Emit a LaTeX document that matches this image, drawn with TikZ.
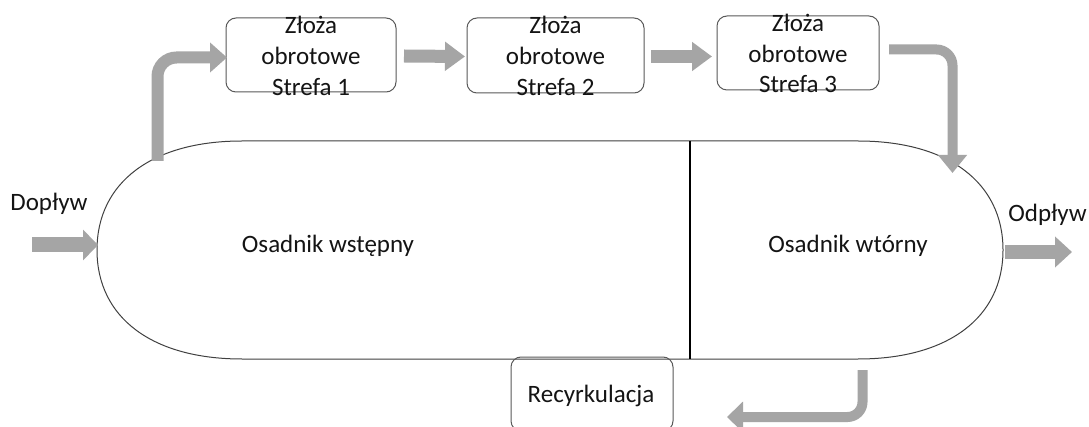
\documentclass[tikz,border=0pt]{standalone}
\usepackage{fontspec}
\setmainfont{Carlito}
\usetikzlibrary{arrows.meta}
\definecolor{arrgray}{HTML}{A5A5A5}
\definecolor{boxline}{HTML}{595959}
\definecolor{stadline}{HTML}{404040}
\definecolor{txt}{HTML}{141414}
\tikzset{
  zbox/.style={draw=boxline, line width=1pt, rounded corners=10pt, inner sep=0pt, outer sep=0pt, fill=none},
  lbl/.style={anchor=base, inner sep=0pt, outer sep=0pt, text=txt, font=\fontsize{25}{31}\selectfont},
  garrow/.style={draw=arrgray, color=arrgray, line cap=butt},
  stad/.style={draw=stadline, line width=1pt},
}
\begin{document}
\begin{tikzpicture}[x=1pt,y=-1pt]
\clip (0,0) rectangle (1089,427);
\fill[white] (0,0) rectangle (1089,427);

% stadium (settlers)
\draw[stad] (242,141) -- (858,141)
  .. controls (948,141) and (1003,182.4) .. (1003,250)
  .. controls (1003,317.6) and (948,359) .. (858,359)
  -- (242,359)
  .. controls (152,359) and (97,317.6) .. (97,250)
  .. controls (97,182.4) and (152,141) .. cycle;
\coordinate (divt) at (690,141);
\coordinate (divb) at (690,359);
\draw[black, line width=1.5pt] (divt) -- (divb);

\node[lbl] (osw) at (328,253) {Osadnik wstępny};
\node[lbl] (osv) at (848,253) {Osadnik wtórny};

% rotating bed boxes
\node[zbox, minimum width=170pt, minimum height=74pt] (b1) at (311,55) {};
\node[zbox, minimum width=177pt, minimum height=75pt] (b2) at (555.5,55.5) {};
\node[zbox, minimum width=162pt, minimum height=74pt] (b3) at (798,53) {};
\node[zbox, minimum width=162pt, minimum height=74pt] (rc) at (592,394) {};

\node[lbl] (b1a) at (311,34) {Złoża};
\node[lbl] (b1b) at (311,65) {obrotowe};
\node[lbl] (b1c) at (311,96) {Strefa 1};
\node[lbl] (b2a) at (555.5,34) {Złoża};
\node[lbl] (b2b) at (555.5,65) {obrotowe};
\node[lbl] (b2c) at (555.5,96) {Strefa 2};
\node[lbl] (b3a) at (798,32) {Złoża};
\node[lbl] (b3b) at (798,62.5) {obrotowe};
\node[lbl] (b3c) at (798,93) {Strefa 3};
\node[lbl] (rct) at (591,402) {Recyrkulacja};

\node[lbl] (dop) at (49,211) {Dopływ};
\node[lbl] (odp) at (1047.5,222) {Odpływ};

% arrows
\coordinate (a1s) at (32,245);
\coordinate (a1e) at (98,245);
\draw[garrow, line width=15pt, -{Triangle[length=15pt,width=30pt]}] (a1s) -- (a1e);

\coordinate (a2s) at (1005,252);
\coordinate (a2e) at (1072,252);
\draw[garrow, line width=14pt, -{Triangle[length=17pt,width=30pt]}] (a2s) -- (a2e);

\coordinate (a3s) at (157.5,161);
\draw[garrow, line width=12pt, rounded corners=19pt, -{Triangle[length=17pt,width=29pt]}]
  (a3s) |- ([xshift=1pt,yshift=-2.5pt]b1.west);

\draw[garrow, line width=13pt, -{Triangle[length=20pt,width=28pt]}]
  ([xshift=8pt,yshift=-1pt]b1.east) -- ([xshift=-2pt,yshift=-1pt]b2.west);
\draw[garrow, line width=13pt, -{Triangle[length=20pt,width=28pt]}]
  ([xshift=7pt,yshift=-1pt]b2.east) -- ([xshift=-5pt,yshift=-3.5pt]b3.west);

\coordinate (a6e) at (952.5,173);
\draw[garrow, line width=10pt, rounded corners=16pt, -{Triangle[length=18pt,width=28pt]}]
  ([xshift=10pt,yshift=3.5pt]b3.east) -| (a6e);

\coordinate (a7s) at (862.5,370);
\coordinate (a7e) at (727,417);
\draw[garrow, line width=10pt, rounded corners=15pt, -{Triangle[length=16pt,width=30pt]}]
  (a7s) |- (a7e);
\end{tikzpicture}
\end{document}
